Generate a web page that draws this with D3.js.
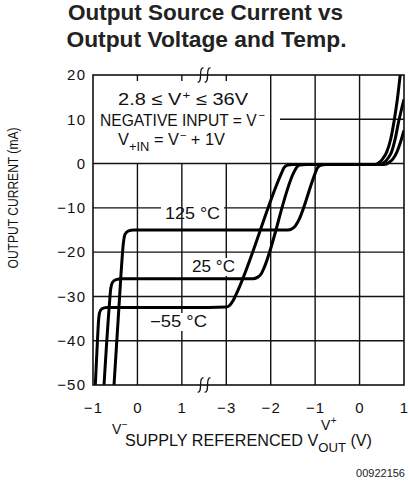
<!DOCTYPE html>
<html><head><meta charset="utf-8">
<script src="https://cdn.jsdelivr.net/npm/d3@7"></script>
<style>body{margin:0;background:#fff}</style>
</head><body><svg id="c" width="409" height="489"></svg>
<script>
// ---------------- data ----------------
const yTicks = [20, 10, 0, -10, -20, -30, -40, -50];
const xTicksLeft = [-1, 0, 1];            // referenced to V-
const xTicksRight = [-3, -2, -1, 0, 1];   // referenced to V+
const curveNames = ["−55 °C", "25 °C", "125 °C"];

// each curve: left part (V- referenced volts, mA) and right part (V+ referenced volts, mA)
const coldLeft = [[-0.948,-50],[-0.90,-40],[-0.875,-35.5],[-0.85,-33.6],[-0.80,-32.8],[-0.70,-32.5],[1.5,-32.5]];
const coldRight = [[-3.4,-32.5],[-3.0,-32.4],[-2.92,-32.0],[-2.85,-31.0],[-2.80,-30.0],[-1.75,-2.0],[-1.70,-0.9],[-1.62,-0.35],[-1.50,-0.2],
                   [0.35,-0.2],[0.45,0.3],[0.53,1.2],[0.61,2.6],[0.70,5.5],[0.78,9.8],[0.85,14.5],[0.92,20.5]];
const roomLeft = [[-0.752,-50],[-0.64,-33],[-0.60,-28.2],[-0.56,-26.8],[-0.48,-26.2],[-0.35,-26.0],[1.5,-26.0]];
const roomRight = [[-3.4,-26.0],[-2.40,-26.0],[-2.30,-25.7],[-2.22,-25.0],[-2.17,-24.0],[-1.48,-2.0],[-1.42,-0.9],[-1.35,-0.35],[-1.20,-0.2],
                   [0.45,-0.2],[0.56,0.3],[0.64,1.2],[0.72,2.6],[0.80,5.5],[0.88,9.5],[0.95,12.5],[1.0,14.5]];
const hotLeft = [[-0.527,-50],[-0.37,-25],[-0.32,-18.3],[-0.28,-16.0],[-0.20,-15.2],[-0.08,-15.0],[1.5,-15.0]];
const hotRight = [[-3.4,-15.0],[-1.62,-15.0],[-1.52,-14.7],[-1.44,-14.0],[-1.38,-13.0],[-1.00,-2.2],[-0.95,-1.0],[-0.88,-0.4],[-0.75,-0.2],
                  [0.55,-0.2],[0.67,0.3],[0.76,1.2],[0.84,2.6],[0.92,4.8],[1.0,7.5]];

// ---------------- layout ----------------
const svg = d3.select("#c");
const X0 = 93, X1 = 404, Y0 = 75, Y1 = 385;
const W = (X1 - X0) / 7;
const xBreak = X0 + 2.5 * W;
const xL = d3.scaleLinear().domain([-1, 1.5]).range([X0, xBreak]);
const xR = d3.scaleLinear().domain([-3.5, 1]).range([xBreak, X1]);
const y = d3.scaleLinear().domain([-50, 20]).range([Y1, Y0]);
const PF = "'Liberation Sans', Arial, sans-serif";
const INK = "#111";

function fit(sel, len) { return sel.attr("textLength", len).attr("lengthAdjust", "spacingAndGlyphs"); }

// title
const title = svg.append("g").attr("font-family", PF).attr("font-weight", "bold")
  .attr("font-size", 21.5).attr("fill", "#222").attr("text-anchor", "middle");
fit(title.append("text").attr("x", 205.5).attr("y", 19.5), 275).text("Output Source Current vs");
fit(title.append("text").attr("x", 206.5).attr("y", 46.5), 280).text("Output Voltage and Temp.");

// grid
const grid = svg.append("g").attr("stroke", INK).attr("stroke-width", 1.4).attr("fill", "none");
const vx = xTicksLeft.map(v => xL(v)).concat(xTicksRight.map(v => xR(v)));
vx.forEach((x, i) => {
  if (i === 0 || i === vx.length - 1) return;
  if (x < 260) {
    grid.append("line").attr("x1", x).attr("x2", x).attr("y1", Y0).attr("y2", Y0 + 6);
    grid.append("line").attr("x1", x).attr("x2", x).attr("y1", y(0)).attr("y2", Y1);
  } else {
    grid.append("line").attr("x1", x).attr("x2", x).attr("y1", Y0).attr("y2", Y1);
  }
});
yTicks.forEach(v => {
  if (v === 20 || v === -50) return;
  if (v === 10) {
    grid.append("line").attr("x1", 280).attr("x2", X1).attr("y1", y(v)).attr("y2", y(v));
  } else if (v === -10) {
    grid.append("line").attr("x1", X0).attr("x2", 161).attr("y1", y(v)).attr("y2", y(v));
    grid.append("line").attr("x1", 224).attr("x2", X1).attr("y1", y(v)).attr("y2", y(v));
  } else {
    grid.append("line").attr("x1", X0).attr("x2", X1).attr("y1", y(v)).attr("y2", y(v));
  }
});

// label backgrounds (mask grid)
svg.append("rect").attr("x", 189).attr("y", 258).attr("width", 48).attr("height", 18).attr("fill", "#fff");
svg.append("rect").attr("x", 148).attr("y", 313).attr("width", 60).attr("height", 18).attr("fill", "#fff");

// curves
svg.append("clipPath").attr("id", "clip").append("rect").attr("x", X0).attr("y", Y0).attr("width", X1 - X0).attr("height", Y1 - Y0);
const line = d3.line().curve(d3.curveMonotoneX);
const curves = [[coldLeft, coldRight], [roomLeft, roomRight], [hotLeft, hotRight]];
curves.forEach(([L, R]) => {
  const pts = L.map(d => [xL(d[0]), y(d[1])]).concat(R.map(d => [xR(d[0]), y(d[1])]));
  svg.append("path").attr("d", line(pts)).attr("fill", "none").attr("stroke", "#000")
    .attr("stroke-width", 3).attr("stroke-linejoin", "round").attr("clip-path", "url(#clip)");
});

// frame
svg.append("rect").attr("x", X0).attr("y", Y0).attr("width", X1 - X0).attr("height", Y1 - Y0)
  .attr("fill", "none").attr("stroke", INK).attr("stroke-width", 1.6);

// break marks
[Y0, Y1].forEach(yy => {
  [-3.5, 3.5].forEach(dx => {
    const x = xBreak + dx;
    svg.append("path").attr("d", `M${x + 3},${yy - 7} Q${x},${yy - 8} ${x},${yy} Q${x},${yy + 8} ${x - 3},${yy + 7}`)
      .attr("fill", "none").attr("stroke", INK).attr("stroke-width", 1.3);
  });
});

// axes
const yAxis = svg.append("g").attr("transform", `translate(${X0},0)`)
  .call(d3.axisLeft(y).tickValues(yTicks).tickSize(0).tickPadding(8).tickFormat(d3.format("d")));
const xAxL = svg.append("g").attr("transform", `translate(0,${Y1})`)
  .call(d3.axisBottom(xL).tickValues(xTicksLeft).tickSize(0).tickPadding(17).tickFormat(d3.format("d")));
const xAxR = svg.append("g").attr("transform", `translate(0,${Y1})`)
  .call(d3.axisBottom(xR).tickValues(xTicksRight).tickSize(0).tickPadding(17).tickFormat(d3.format("d")));
[yAxis, xAxL, xAxR].forEach(g => {
  g.select(".domain").remove();
  g.selectAll("text").attr("font-family", PF).attr("font-size", 15).attr("fill", INK)
    .attr("letter-spacing", 1.2);
});
yAxis.selectAll("text").attr("dx", 1.2);

// text block
const tb = svg.append("g").attr("font-family", PF).attr("font-size", 16.5).attr("fill", INK);
const t1 = fit(tb.append("text").attr("x", 183).attr("y", 105).attr("text-anchor", "middle"), 130);
t1.append("tspan").text("2.8 ≤ V");
t1.append("tspan").attr("dy", -6).attr("dx", 1).attr("font-size", 11).text("+");
t1.append("tspan").attr("dy", 6).text(" ≤ 36V");
tb.append("text").attr("x", 100).attr("y", 126).attr("font-size", 15.6).text("NEGATIVE INPUT = V");
tb.append("text").attr("x", 258.5).attr("y", 119).attr("font-size", 11).text("−");
const t3 = fit(tb.append("text").attr("x", 171.5).attr("y", 145).attr("text-anchor", "middle"), 107);
t3.append("tspan").text("V");
t3.append("tspan").attr("dy", 6).attr("font-size", 13).text("+IN");
t3.append("tspan").attr("dy", -6).text(" = V");
t3.append("tspan").attr("dy", -6).attr("dx", 1).attr("font-size", 11).text("−");
t3.append("tspan").attr("dy", 6).text(" + 1V");

// curve labels
const labPos = [[178.5, 327], [213.5, 272], [192.5, 219]];
const labLen = [57, 43, 55];
curveNames.forEach((n, i) => {
  fit(svg.append("text").attr("x", labPos[i][0]).attr("y", labPos[i][1]).attr("text-anchor", "middle")
    .attr("font-family", PF).attr("font-size", 16).attr("fill", INK), labLen[i]).text(n);
});

// axis titles
fit(svg.append("text").attr("transform", "translate(18,198) rotate(-90)").attr("text-anchor", "middle")
  .attr("font-family", PF).attr("font-size", 14).attr("fill", INK), 141).text("OUTPUT CURRENT (mA)");
const vm = svg.append("text").attr("x", 112).attr("y", 434).attr("font-family", PF).attr("font-size", 14).attr("fill", INK);
vm.append("tspan").text("V"); vm.append("tspan").attr("dy", -6).attr("dx", 0.5).attr("font-size", 10).text("−");
const vp = svg.append("text").attr("x", 321).attr("y", 430).attr("font-family", PF).attr("font-size", 14).attr("fill", INK);
vp.append("tspan").text("V"); vp.append("tspan").attr("dy", -6).attr("dx", 0.5).attr("font-size", 10).text("+");
const xt = fit(svg.append("text").attr("x", 125).attr("y", 446).attr("font-family", PF).attr("font-size", 16).attr("fill", INK), 247);
xt.append("tspan").text("SUPPLY REFERENCED V");
xt.append("tspan").attr("dy", 6).attr("font-size", 13).text("OUT");
xt.append("tspan").attr("dy", -6).text(" (V)");

svg.append("text").attr("x", 405).attr("y", 477).attr("text-anchor", "end").attr("font-family", PF)
  .attr("font-size", 11).attr("fill", "#222").text("00922156");
</script></body></html>
